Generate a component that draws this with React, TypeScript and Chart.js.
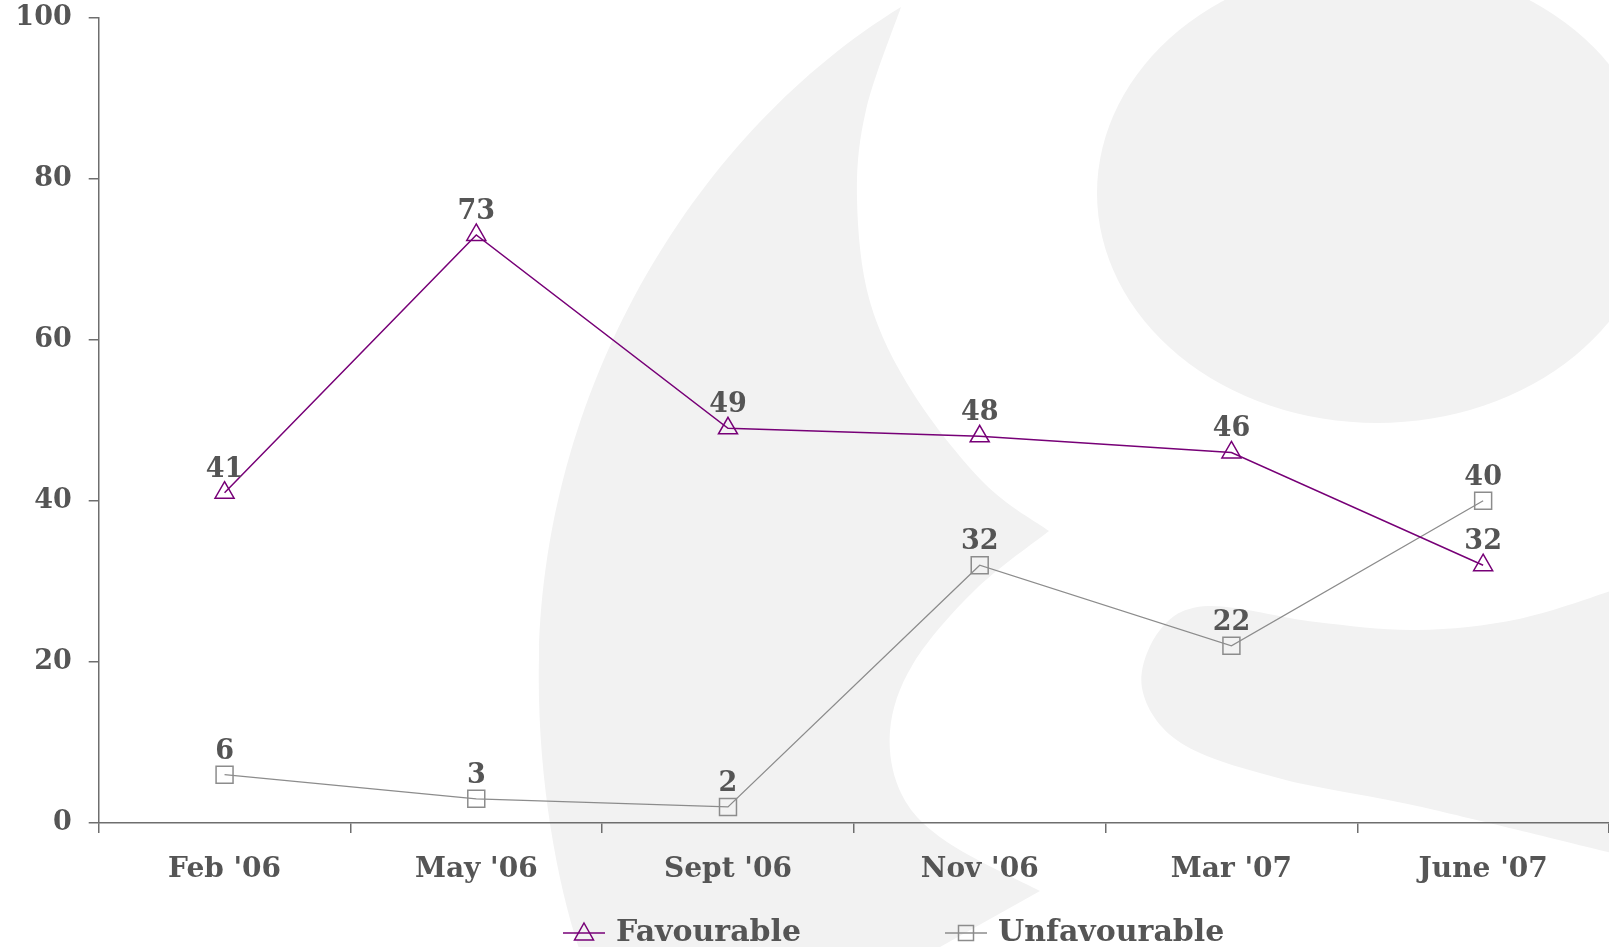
import React, { useEffect, useRef } from "react";
import { Chart, registerables } from "chart.js";

Chart.register(...registerables);

const categories = ["Feb '06", "May '06", "Sept '06", "Nov '06", "Mar '07", "June '07"];
const favourable = [41, 73, 49, 48, 46, 32];
const unfavourable = [6, 3, 2, 32, 22, 40];
const seriesLabels = ["Favourable", "Unfavourable"];
const yMin = 0;
const yMax = 100;
const yStep = 20;

const FONT = "'DejaVu Serif', serif";
const TEXT = "#555555";
const PURPLE = "#770077";
const GREY = "#8c8c8c";
const AXIS = "#6e6e6e";
const WATER = "#f2f2f2";

type P = [number, number];

function spline(ctx: CanvasRenderingContext2D, pts: P[], move: boolean) {
  if (move) ctx.moveTo(pts[0][0], pts[0][1]);
  else ctx.lineTo(pts[0][0], pts[0][1]);
  for (let i = 0; i < pts.length - 1; i++) {
    const p0 = pts[i - 1] || pts[i];
    const p1 = pts[i];
    const p2 = pts[i + 1];
    const p3 = pts[i + 2] || p2;
    ctx.bezierCurveTo(
      p1[0] + (p2[0] - p0[0]) / 6,
      p1[1] + (p2[1] - p0[1]) / 6,
      p2[0] - (p3[0] - p1[0]) / 6,
      p2[1] - (p3[1] - p1[1]) / 6,
      p2[0],
      p2[1]
    );
  }
}

const stretchPlugin = {
  id: "stretchRight",
  afterLayout(chart: any) {
    const x = chart.scales.x;
    const target = chart.width;
    x.right = target;
    x.width = target - x.left;
    x.configure();
    chart.chartArea.right = target;
    chart.chartArea.width = target - chart.chartArea.left;
  },
};

const watermarkPlugin = {
  id: "watermark",
  beforeDraw(chart: any) {
    const ctx: CanvasRenderingContext2D = chart.ctx;
    ctx.save();
    ctx.fillStyle = WATER;
    // crescent
    ctx.beginPath();
    ctx.moveTo(901, 7);
    ctx.bezierCurveTo(700, 130, 545, 380, 539, 657);
    ctx.bezierCurveTo(536, 780, 560, 900, 585, 965);
    ctx.lineTo(910, 965);
    ctx.lineTo(940, 947);
    ctx.lineTo(1040, 891);
    spline(ctx, [[1040, 891], [947, 842], [902, 795], [890, 731], [913, 664], [975, 590], [1049, 531]], false);
    spline(ctx, [[1049, 531], [984, 483], [913, 393], [870, 302], [857, 199], [866, 110], [901, 7]], false);
    ctx.closePath();
    ctx.fill();
    // upper blob
    ctx.beginPath();
    ctx.ellipse(1377, 193, 280, 230, 0, 0, Math.PI * 2);
    ctx.fill();
    // lower band
    ctx.beginPath();
    spline(ctx, [[1620, 588], [1519, 619], [1417, 630], [1316, 622], [1208, 606], [1160, 630], [1142, 688], [1181, 743], [1282, 779], [1417, 806], [1620, 855]], true);
    ctx.lineTo(1620, 588);
    ctx.closePath();
    ctx.fill();
    ctx.restore();
  },
};

const dataLabelPlugin = {
  id: "dataLabels",
  afterDatasetsDraw(chart: any) {
    const ctx: CanvasRenderingContext2D = chart.ctx;
    ctx.save();
    ctx.font = `bold 27px ${FONT}`;
    ctx.fillStyle = TEXT;
    ctx.textAlign = "center";
    ctx.textBaseline = "alphabetic";
    chart.data.datasets.forEach((ds: any, di: number) => {
      const meta = chart.getDatasetMeta(di);
      meta.data.forEach((el: any, i: number) => {
        ctx.fillText(String(ds.data[i]), el.x, el.y - 16);
      });
    });
    ctx.restore();
  },
};

const legendPlugin = {
  id: "customLegend",
  afterDraw(chart: any) {
    const ctx: CanvasRenderingContext2D = chart.ctx;
    const y = 933;
    const starts = [563, 945];
    ctx.save();
    chart.data.datasets.forEach((ds: any, di: number) => {
      const x0 = starts[di];
      const cx = x0 + 21;
      ctx.strokeStyle = ds.borderColor;
      ctx.lineWidth = 1.5;
      ctx.beginPath();
      ctx.moveTo(x0, y);
      ctx.lineTo(x0 + 42, y);
      ctx.stroke();
      ctx.beginPath();
      if (ds.pointStyle === "triangle") {
        ctx.moveTo(cx, y - 10);
        ctx.lineTo(cx + 9.5, y + 7);
        ctx.lineTo(cx - 9.5, y + 7);
        ctx.closePath();
      } else {
        ctx.rect(cx - 7.5, y - 7.5, 15, 15);
      }
      ctx.stroke();
      ctx.font = `bold 30px ${FONT}`;
      ctx.fillStyle = TEXT;
      ctx.textAlign = "left";
      ctx.textBaseline = "middle";
      ctx.fillText(ds.label, x0 + 53, y);
    });
    ctx.restore();
  },
};

export default function App() {
  const ref = useRef<HTMLCanvasElement | null>(null);
  useEffect(() => {
    if (!ref.current) return;
    const chart = new Chart(ref.current, {
      type: "line",
      data: {
        labels: categories,
        datasets: [
          {
            label: seriesLabels[0],
            data: favourable,
            borderColor: PURPLE,
            borderWidth: 1.5,
            pointStyle: "triangle",
            pointRadius: 11,
            pointBorderWidth: 1.5,
            pointBorderColor: PURPLE,
            pointBackgroundColor: "rgba(0,0,0,0)",
            tension: 0,
            fill: false,
          },
          {
            label: seriesLabels[1],
            data: unfavourable,
            borderColor: GREY,
            borderWidth: 1.3,
            pointStyle: "rect",
            pointRadius: 12,
            pointBorderWidth: 1.5,
            pointBorderColor: GREY,
            pointBackgroundColor: "rgba(0,0,0,0)",
            tension: 0,
            fill: false,
          },
        ],
      },
      options: {
        responsive: false,
        animation: false,
        events: [],
        layout: { padding: { top: 17.5, right: 0, bottom: 0, left: 0 } },
        plugins: {
          legend: { display: false },
          tooltip: { enabled: false },
          title: { display: false },
        },
        scales: {
          x: {
            type: "category",
            offset: true,
            grid: {
              offset: true,
              drawOnChartArea: false,
              drawTicks: true,
              tickLength: 10,
              color: AXIS,
              lineWidth: 1.5,
            },
            border: { display: true, color: AXIS, width: 1.5 },
            ticks: {
              color: TEXT,
              font: { family: FONT, size: 28, weight: "bold" },
              padding: 20,
              maxRotation: 0,
              autoSkip: false,
            },
            afterFit: (s: any) => {
              s.height = 124;
              s.paddingLeft = 0;
              s.paddingRight = 0;
            },
          },
          y: {
            min: yMin,
            max: yMax,
            grid: {
              drawOnChartArea: false,
              drawTicks: true,
              tickLength: 10,
              color: AXIS,
              lineWidth: 1.5,
            },
            border: { display: true, color: AXIS, width: 1.5 },
            ticks: {
              stepSize: yStep,
              color: TEXT,
              font: { family: FONT, size: 27, weight: "bold" },
              padding: 17,
            },
            afterFit: (s: any) => {
              s.width = 98.7;
              s.paddingTop = 0;
              s.paddingBottom = 0;
            },
          },
        },
      },
      plugins: [stretchPlugin, watermarkPlugin, dataLabelPlugin, legendPlugin],
    } as any);
    return () => chart.destroy();
  }, []);
  return (
    <div style={{ position: "fixed", left: 0, top: 0, width: 1609, height: 947, background: "#ffffff" }}>
      <canvas ref={ref} width={1609} height={947} style={{ display: "block", width: 1609, height: 947 }} />
    </div>
  );
}
